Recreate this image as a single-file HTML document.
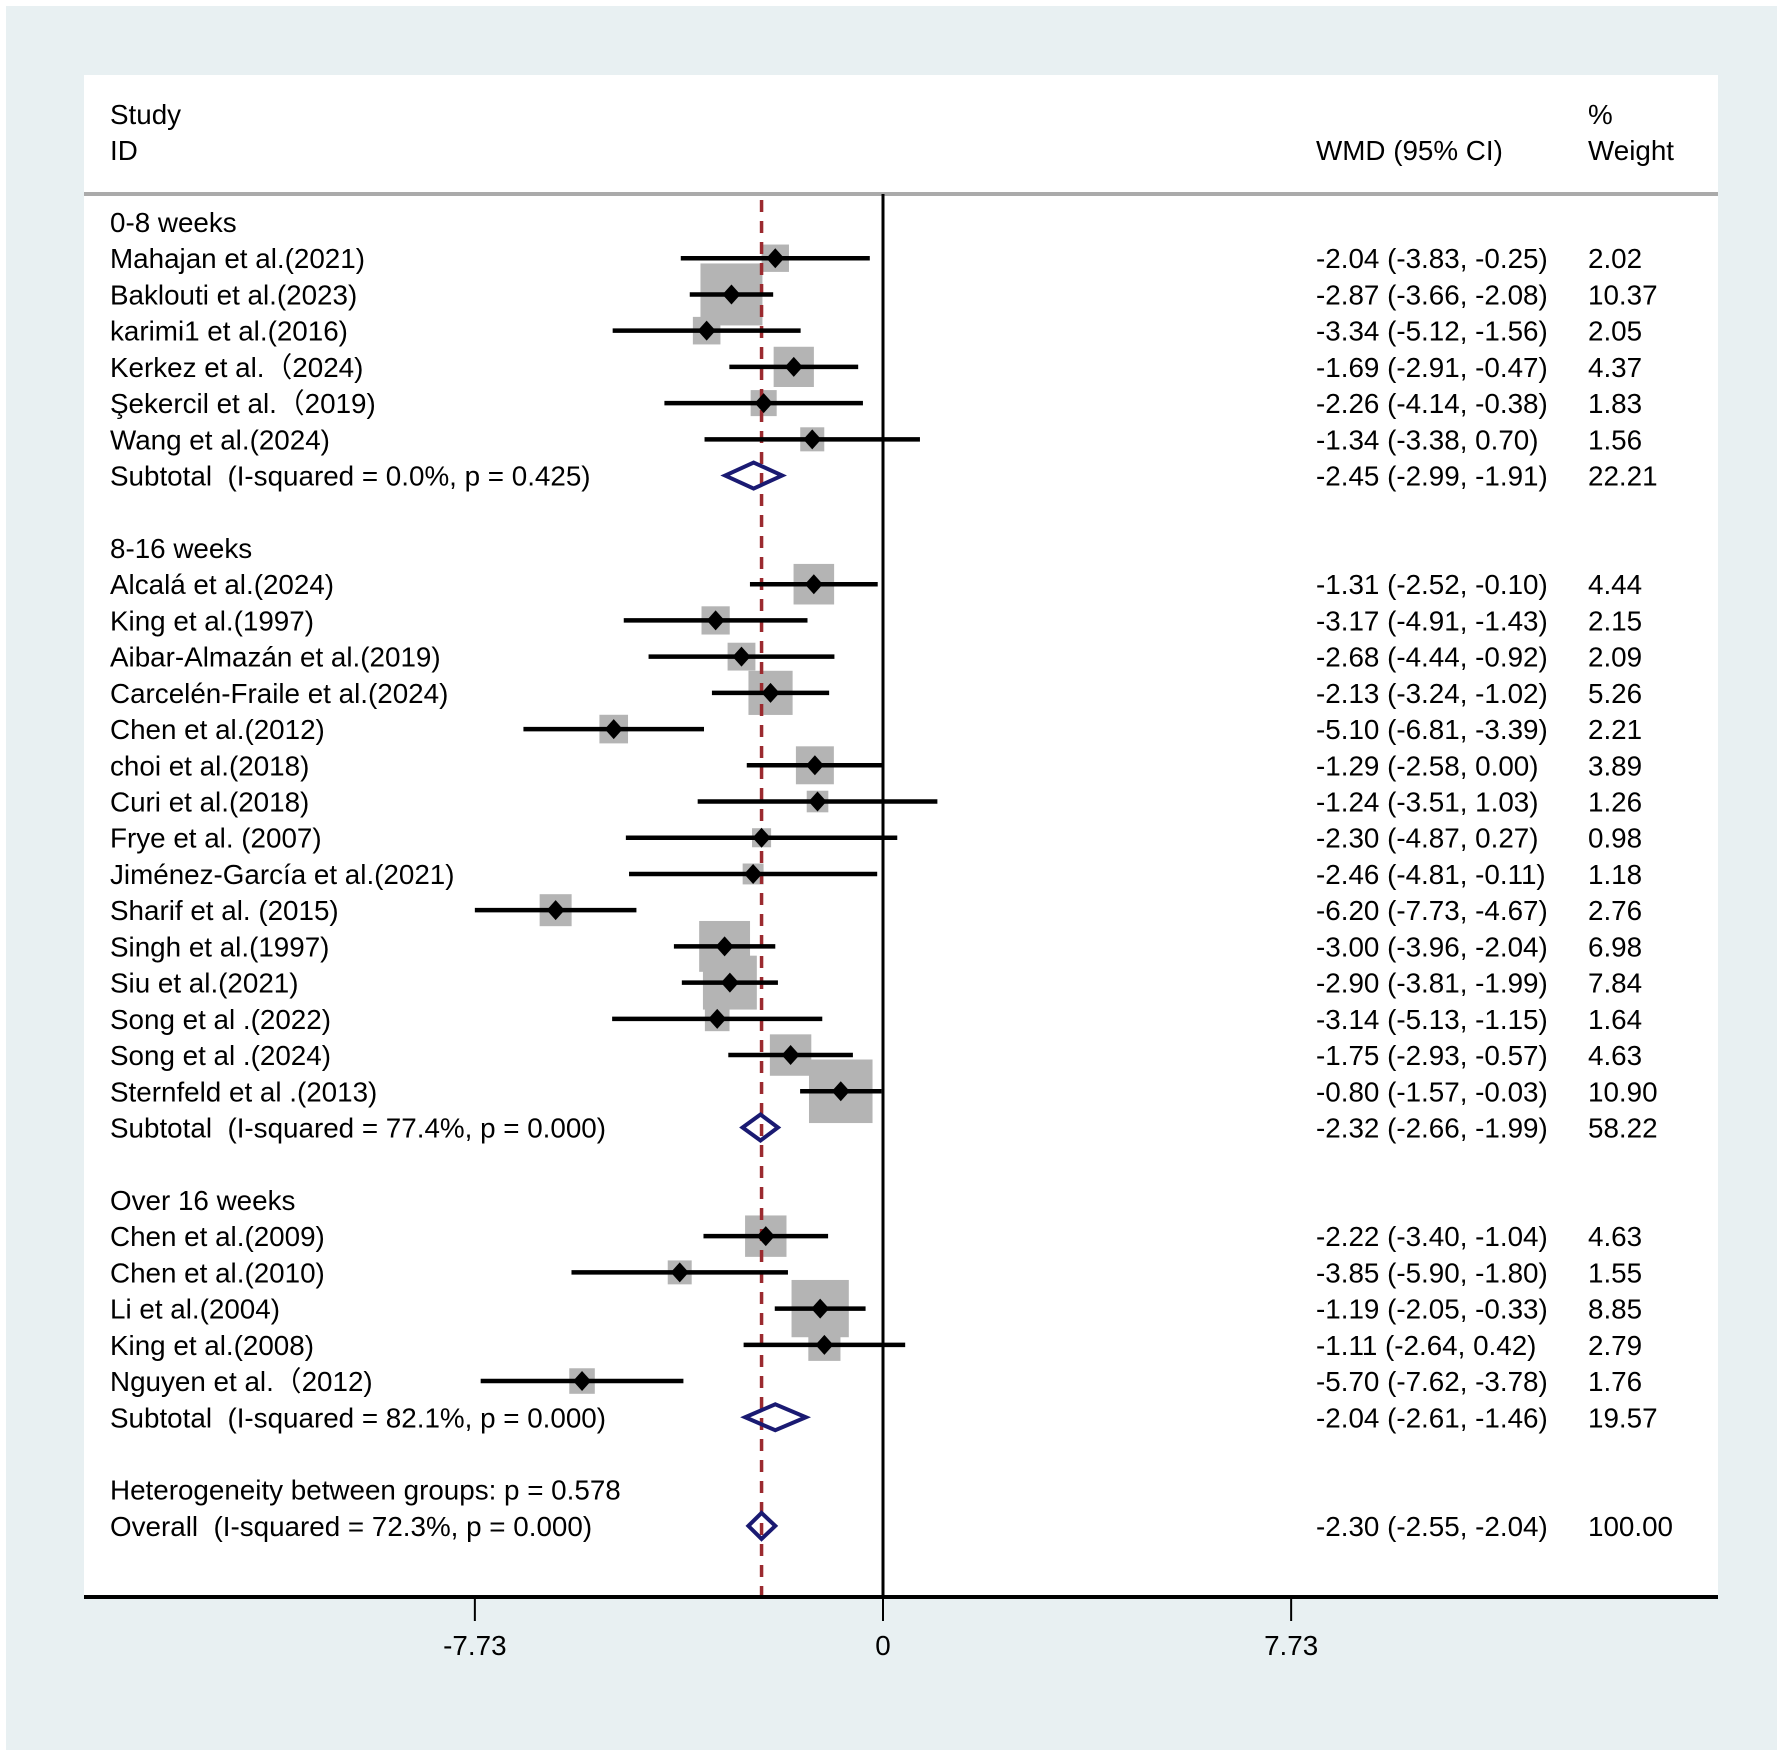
<!DOCTYPE html>
<html><head><meta charset="utf-8"><style>
html,body{margin:0;padding:0;background:#fff}
svg{display:block}
text{font-family:"Liberation Sans",Arial,sans-serif;font-size:27.8px;fill:#000;white-space:pre}
</style></head><body>
<svg id="chart" width="1784" height="1756" viewBox="0 0 1784 1756" xmlns="http://www.w3.org/2000/svg">
<rect x="6" y="6" width="1771" height="1744" fill="#e8f0f2"/>
<rect x="84" y="75" width="1634" height="1522" fill="#fff"/>
<text x="110" y="124">Study</text>
<text x="110" y="160">ID</text>
<text x="1316" y="160">WMD (95% CI)</text>
<text x="1588" y="124">%</text>
<text x="1588" y="160">Weight</text>
<line x1="84" y1="194" x2="1718" y2="194" stroke="#aaa" stroke-width="4"/>
<g id="marks"></g>
</svg>
<script>
// row types: h=group header, s=study, t=subtotal, b=blank, x=text only, o=overall
const rowTypes = ["h","s","s","s","s","s","s","t","b","h","s","s","s","s","s","s","s","s","s","s","s","s","s","s","s","t","b","h","s","s","s","s","s","t","b","x","o"];
const labels = ["0-8 weeks","Mahajan et al.(2021)","Baklouti et al.(2023)","karimi1 et al.(2016)","Kerkez et al.（2024)","Şekercil et al.（2019)","Wang et al.(2024)","Subtotal  (I-squared = 0.0%, p = 0.425)","","8-16 weeks","Alcalá et al.(2024)","King et al.(1997)","Aibar-Almazán et al.(2019)","Carcelén-Fraile et al.(2024)","Chen et al.(2012)","choi et al.(2018)","Curi et al.(2018)","Frye et al. (2007)","Jiménez-García et al.(2021)","Sharif et al. (2015)","Singh et al.(1997)","Siu et al.(2021)","Song et al .(2022)","Song et al .(2024)","Sternfeld et al .(2013)","Subtotal  (I-squared = 77.4%, p = 0.000)","","Over 16 weeks","Chen et al.(2009)","Chen et al.(2010)","Li et al.(2004)","King et al.(2008)","Nguyen et al.（2012)","Subtotal  (I-squared = 82.1%, p = 0.000)","","Heterogeneity between groups: p = 0.578","Overall  (I-squared = 72.3%, p = 0.000)"];
const est = [null,-2.04,-2.87,-3.34,-1.69,-2.26,-1.34,-2.45,null,null,-1.31,-3.17,-2.68,-2.13,-5.10,-1.29,-1.24,-2.30,-2.46,-6.20,-3.00,-2.90,-3.14,-1.75,-0.80,-2.32,null,null,-2.22,-3.85,-1.19,-1.11,-5.70,-2.04,null,null,-2.30];
const lower = [null,-3.83,-3.66,-5.12,-2.91,-4.14,-3.38,-2.99,null,null,-2.52,-4.91,-4.44,-3.24,-6.81,-2.58,-3.51,-4.87,-4.81,-7.73,-3.96,-3.81,-5.13,-2.93,-1.57,-2.66,null,null,-3.40,-5.90,-2.05,-2.64,-7.62,-2.61,null,null,-2.55];
const upper = [null,-0.25,-2.08,-1.56,-0.47,-0.38,0.70,-1.91,null,null,-0.10,-1.43,-0.92,-1.02,-3.39,0.00,1.03,0.27,-0.11,-4.67,-2.04,-1.99,-1.15,-0.57,-0.03,-1.99,null,null,-1.04,-1.80,-0.33,0.42,-3.78,-1.46,null,null,-2.04];
const weights = [null,2.02,10.37,2.05,4.37,1.83,1.56,22.21,null,null,4.44,2.15,2.09,5.26,2.21,3.89,1.26,0.98,1.18,2.76,6.98,7.84,1.64,4.63,10.90,58.22,null,null,4.63,1.55,8.85,2.79,1.76,19.57,null,null,100.00];
const overallEst = -2.30;
const tickValues = [-7.73, 0, 7.73];
const tickLabels = ["-7.73", "0", "7.73"];

const X0 = 883, PXU = 52.8, ROW0 = 222, PITCH = 36.22, AXISY = 1597;
function xs(v){ return X0 + v*PXU; }
function ys(i){ return ROW0 + i*PITCH; }
const NS = "http://www.w3.org/2000/svg";
const g = document.getElementById("marks");
function mk(tag, attrs, parent){
  const e = document.createElementNS(NS, tag);
  for (const k in attrs) e.setAttribute(k, attrs[k]);
  (parent||g).appendChild(e); return e;
}
function fmt(v){ return v.toFixed(2); }

rowTypes.forEach((t,i)=>{
  if (t!=="s") return;
  const side = 19.25*Math.sqrt(weights[i]);
  const r = mk("rect",{x:xs(est[i])-side/2,y:ys(i)-side/2,width:side,height:side,fill:"#b4b4b4"});
  
  
});
const dl = mk("line",{x1:xs(overallEst),y1:200,x2:xs(overallEst),y2:AXISY,stroke:"#9b2a2f","stroke-width":3.5,"stroke-dasharray":"12 9"});


const zl = mk("line",{x1:xs(0),y1:194,x2:xs(0),y2:AXISY,stroke:"#000","stroke-width":3});



rowTypes.forEach((t,i)=>{
  const y = ys(i);
  if (labels[i]) {
    const tx = mk("text",{x:110,y:y+10});
    tx.textContent = labels[i];
    
    
  }
  if (t==="s"||t==="t"||t==="o") {
    const v = mk("text",{x:1316,y:y+10});
    v.textContent = fmt(est[i])+" ("+fmt(lower[i])+", "+fmt(upper[i])+")";
    
    
    const w = mk("text",{x:1588,y:y+10});
    w.textContent = fmt(weights[i]);
    
    
  }
  if (t==="s") {
    const l = mk("line",{x1:xs(lower[i]),y1:y,x2:xs(upper[i]),y2:y,stroke:"#000","stroke-width":4.5});
    
    
    const cx = xs(est[i]);
    const d = mk("polygon",{points:`${cx-9},${y} ${cx},${y-10} ${cx+9},${y} ${cx},${y+10}`,fill:"#000"});
    
    
  }
  if (t==="t"||t==="o") {
    const a = xs(lower[i]), b = xs(upper[i]), c = xs(est[i]);
    const p = mk("polygon",{points:`${a},${y} ${c},${y-13} ${b},${y} ${c},${y+13}`,fill:"none",stroke:"#1a1a72","stroke-width":4});
    
    
  }
});

const ax = mk("line",{x1:84,y1:AXISY,x2:1718,y2:AXISY,stroke:"#000","stroke-width":4});


tickValues.forEach((v,k)=>{
  const tk = mk("line",{x1:xs(v),y1:AXISY,x2:xs(v),y2:AXISY+24,stroke:"#000","stroke-width":2});
  
  
  const tl = mk("text",{x:xs(v),y:AXISY+58,"text-anchor":"middle"});
  tl.textContent = tickLabels[k];
  
  
});
</script>
</body></html>
